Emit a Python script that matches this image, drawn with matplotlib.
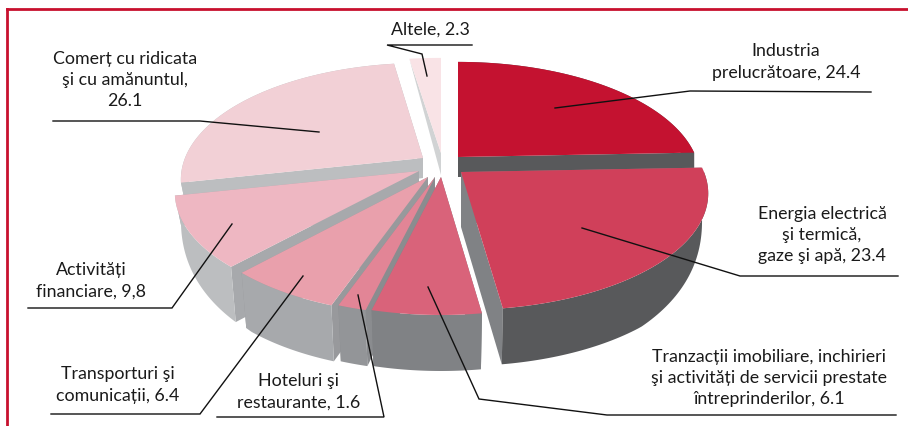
#!/usr/bin/python

import numpy as np
import matplotlib
matplotlib.use('Agg')
import matplotlib.pyplot as plt
from matplotlib.patches import Polygon

plt.rcParams['font.family'] = ['Lato', 'Open Sans', 'DejaVu Sans']

# Data, clockwise from the top of the pie
labels = ['Industria\nprelucrătoare, 24.4',
          'Energia electrică\nşi termică,\ngaze şi apă, 23.4',
          'Tranzacții imobiliare, inchirieri\nşi activități de servicii prestate\nîntreprinderilor, 6.1',
          'Hoteluri şi\nrestaurante, 1.6',
          'Transporturi şi\ncomunicații, 6.4',
          'Activități\nfinanciare, 9,8',
          'Comerț cu ridicata\nşi cu amănuntul,\n26.1',
          'Altele, 2.3']
values = [24.4, 23.4, 6.1, 1.6, 6.4, 9.8, 26.1, 2.3]

# Look of each slice
top_colors = ['#c41230', '#d0405a', '#d9637a', '#e28596', '#e9a0ac', '#eeb7c2', '#f2d0d6', '#f9e3e6']
wall_colors = ['#58595b', '#58595b', '#808285', '#939598', '#a7a9ac', '#bcbec0', '#bcbec0', '#d1d3d4']
face_colors = ['#58595b', '#808285', '#808285', '#8a8c8f', '#98999c', '#a7a9ac', '#bcbec0', '#d1d3d4']

# Exploded position of each slice tip, in pixels
tip_x = [458, 461, 441, 435, 428, 419, 423, 441]
tip_y = [157, 172, 177, 177, 177, 171, 158, 153]
tip_depth = [20, 55, 55, 55, 55, 55, 20, 22]
corner_depth = [20, 0, 0, 0, 0, 0, 16, 0]
slice_rx = [238, 243, 238, 238, 238, 240, 238, 260]

# Order the slices are painted in, back to front
paint_order = [7, 0, 6, 5, 1, 4, 3, 2]

RY = 112.6
PERSPECTIVE = 0.184
DEPTH = 56.0
BOTTOM_SHRINK = 0.975

# Text centres and leader lines, in pixels
text_pos = [(786, 62), (822, 235), (769, 378), (299, 392),
            (118, 385), (91, 281), (125, 80), (430, 30)]
leaders = [[(871, 92), (690, 91), (555, 108)],
           [(898, 276), (740, 276), (582, 228)],
           [(896, 415), (607, 415), (479, 399), (428, 287)],
           [(217, 417), (384, 417), (358, 295)],
           [(51, 414), (200, 414), (303, 276)],
           [(28, 308), (172, 308), (232, 224)],
           [(53, 121), (200, 121), (319, 132)],
           [(472, 45), (387, 45), (422, 54), (427, 76)]]


# Project angles (degrees clockwise from the top) onto the tilted disc
def project(angles, rx):
    rad = np.radians(angles)
    x = np.sin(rad)
    y = np.cos(rad)
    s = 1.0 / (1.0 + PERSPECTIVE * y)
    return rx * x * s, -RY * y * s, y


def rim_depth(y, floor):
    depth = np.minimum(DEPTH, DEPTH * 1.15 * np.sqrt(np.maximum(-y, 0)))
    return np.maximum(depth, floor)


def draw_slice(ax, i, start, end):
    cx, cy = tip_x[i], tip_y[i]
    angles = np.linspace(start, end, 80)
    dx, dy, y = project(angles, slice_rx[i])
    top_x = cx + dx
    top_y = cy + dy
    low_x = cx + dx * np.where(y < 0, BOTTOM_SHRINK, 1.0)
    low_y = top_y + rim_depth(y, corner_depth[i])
    tip_low = cy + tip_depth[i]

    # radial faces first, then the outer wall, then the top
    for k in (0, -1):
        pts = [(cx, cy), (top_x[k], top_y[k]), (low_x[k], low_y[k]), (cx, tip_low)]
        ax.add_patch(Polygon(pts, closed=True, fc=face_colors[i], ec='none'))
    wall = np.concatenate([np.column_stack([top_x, top_y]),
                           np.column_stack([low_x, low_y])[::-1]])
    ax.add_patch(Polygon(wall, closed=True, fc=wall_colors[i], ec='none'))
    top = np.vstack([[cx, cy], np.column_stack([top_x, top_y])])
    ax.add_patch(Polygon(top, closed=True, fc=top_colors[i], ec='none'))


def main():
    fig = plt.figure(figsize=(9.08, 4.26), dpi=100)
    ax = fig.add_axes([0, 0, 1, 1])
    ax.set_xlim(0, 908)
    ax.set_ylim(426, 0)
    ax.axis('off')

    # Red frame, only top and left
    ax.plot([7, 908], [9, 9], color='#c8102e', linewidth=2.0)
    ax.plot([7, 7], [9, 426], color='#c8102e', linewidth=2.0)

    shares = np.array(values) / np.sum(values) * 360.0
    ends = np.cumsum(shares)
    starts = ends - shares
    for i in paint_order:
        draw_slice(ax, i, starts[i], ends[i])

    for line in leaders:
        xs, ys = zip(*line)
        ax.plot(xs, ys, color='#111111', linewidth=1.0, solid_joinstyle='miter')

    for label, (x, y) in zip(labels, text_pos):
        ax.text(x, y, label, ha='center', va='center', fontsize=12.8,
                color='#1a1a1a', linespacing=1.4)

    fig.savefig('out.png', dpi=100)


if __name__ == '__main__':
    main()
